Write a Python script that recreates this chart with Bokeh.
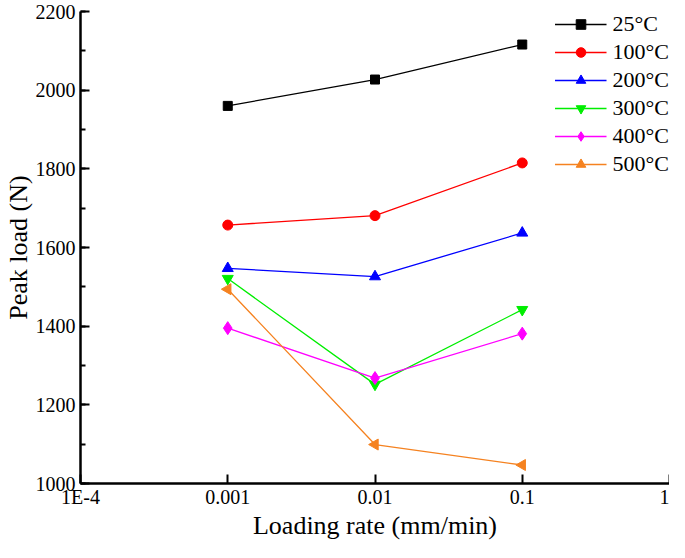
import math
from bokeh.plotting import figure
from bokeh.models import (Range1d, FixedTicker, SingleIntervalTicker, Legend, LegendItem,
                          ColumnDataSource)
from bokeh.embed import file_html
from bokeh.resources import INLINE

rates = [0.001, 0.01, 0.1]
temps = ["25°C", "100°C", "200°C", "300°C", "400°C", "500°C"]
load_25 = [1960, 2027, 2116]
load_100 = [1657, 1681, 1815]
load_200 = [1547, 1526, 1637]
load_300 = [1521, 1252, 1442]
load_400 = [1395, 1268, 1381]
load_500 = [1494, 1099, 1047]
x_ticks = [1e-4, 1e-3, 1e-2, 1e-1, 1]
x_tick_labels = ["1E-4", "0.001", "0.01", "0.1", "1"]

series = [load_25, load_100, load_200, load_300, load_400, load_500]
colors = ["#000000", "#FF0000", "#0000FF", "#00EE00", "#FF00FF", "#F58220"]
markers = ["square", "circle", "triangle", "inverted_triangle", "diamond", "triangle"]
angles = [0, 0, 0, 0, 0, math.pi / 2]
sizes = [9, 10, 11, 11, 13, 11]

FONT = "Liberation Serif"

p = figure(width=669, height=542, x_axis_type="log",
           x_range=Range1d(1e-4, 1), y_range=Range1d(1000, 2200),
           output_backend="svg", toolbar_location=None,
           min_border_left=10, min_border_right=0, min_border_top=11, min_border_bottom=10)
p.outline_line_color = None
p.xgrid.visible = False
p.ygrid.visible = False

items = []
for vals, c, m, a, s, t in zip(series, colors, markers, angles, sizes, temps):
    src = ColumnDataSource(dict(x=rates, y=vals, ang=[a] * len(rates)))
    l = p.line("x", "y", source=src, line_color=c, line_width=1.3)
    sc = p.scatter("x", "y", source=src, marker=m, size=s, angle="ang", angle_units="rad",
                   fill_color=c, line_color=c)
    items.append(LegendItem(label=t, renderers=[l, sc]))

legend = Legend(items=items, location="top_right", border_line_color=None,
                background_fill_alpha=0, label_text_font=FONT, label_text_color="black",
                label_text_font_size="22px", glyph_width=52, glyph_height=24,
                spacing=2, padding=0, margin=0, label_standoff=6)
p.add_layout(legend)

xa = p.xaxis[0]
xa.ticker = FixedTicker(ticks=x_ticks)
xa.major_label_overrides = {t: l for t, l in zip(x_ticks, x_tick_labels)}
ya = p.yaxis[0]
ya.ticker = SingleIntervalTicker(interval=200, num_minor_ticks=2)

for ax in (xa, ya):
    ax.axis_line_width = 2.5
    ax.axis_line_color = "black"
    ax.major_tick_line_width = 2
    ax.major_tick_line_color = "black"
    ax.major_tick_in = 9
    ax.major_tick_out = 0
    ax.minor_tick_line_width = 2
    ax.minor_tick_line_color = "black"
    ax.minor_tick_in = 5
    ax.minor_tick_out = 0
    ax.major_label_text_font = FONT
    ax.major_label_text_font_size = "20px"
    ax.major_label_text_color = "black"
    ax.axis_label_text_font = FONT
    ax.axis_label_text_font_size = "26px"
    ax.axis_label_text_font_style = "normal"
    ax.axis_label_text_color = "black"
xa.minor_tick_line_color = None
xa.major_label_standoff = 2
xa.axis_label_standoff = 0
ya.major_label_standoff = 5
ya.axis_label_standoff = 0
xa.axis_label = "Loading rate (mm/min)"
ya.axis_label = "Peak load (N)"

open("out.html", "w").write(file_html(p, INLINE))
